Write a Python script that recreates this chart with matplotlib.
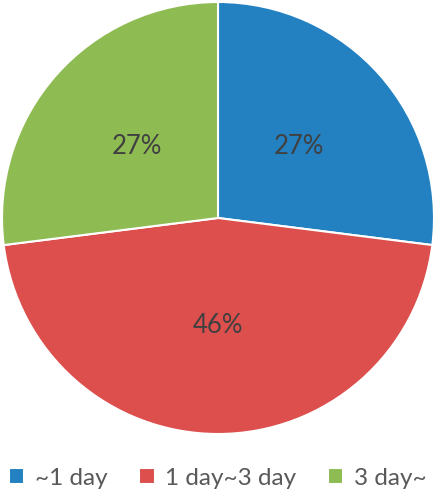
import numpy as np
import matplotlib.pyplot as plt

plt.rcParams['font.family'] = ['Lato', 'DejaVu Sans']

categories = ['~1 day', '1 day~3 day', '3 day~']
shares = [27, 46, 27]
colors = ['#2381C2', '#DC4F4D', '#8EBC53']

fig = plt.figure(figsize=(4.36, 4.95), dpi=100)
ax = fig.add_axes([2/436, 61/495, 432/436, 432/495])

wedges, texts, autotexts = ax.pie(shares, colors=colors, startangle=90, counterclock=False,
                                  autopct='%1.0f%%', pctdistance=0.5,
                                  wedgeprops=dict(edgecolor='white', linewidth=1.5),
                                  textprops=dict(color='#404040', fontsize=18.5))
ax.set_xlim(-1, 1)
ax.set_ylim(-1, 1)
ax.set_aspect('equal')

fig.legend(wedges, categories, loc='center', bbox_to_anchor=(0.5, 0.034), ncol=3,
           frameon=False, fontsize=17.5, handlelength=0.62, handleheight=0.62,
           handletextpad=0.45, columnspacing=1.3, labelcolor='#595959',
           borderpad=0.1, borderaxespad=0.1)

fig.savefig('out.png', dpi=100)
